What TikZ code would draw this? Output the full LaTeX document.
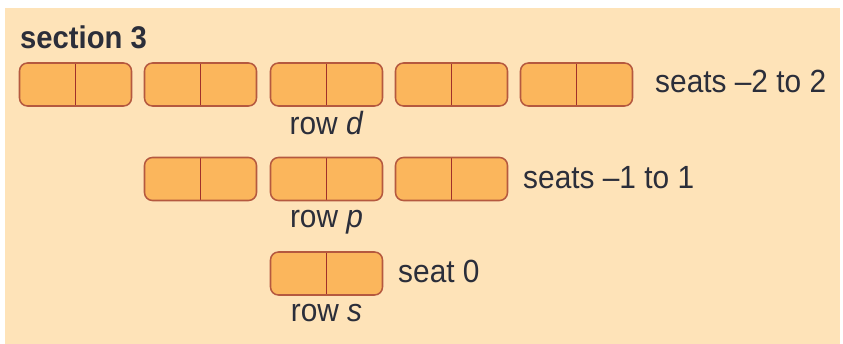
\documentclass[tikz,border=0pt]{standalone}
\usepackage{fontspec}
\setmainfont{Liberation Sans}[FakeStretch=0.93]
\definecolor{sectbg}{HTML}{FEE3B8}
\definecolor{seatfill}{HTML}{FBB65C}
\definecolor{seatedge}{HTML}{B5593F}
\definecolor{seatline}{HTML}{A0302A}
\definecolor{inktext}{HTML}{2B2E3A}
\tikzset{
  seatbox/.style={draw=seatedge, fill=seatfill, line width=1.3pt, rounded corners=2.4mm,
    minimum width=33.6mm, minimum height=12.9mm, inner sep=0pt,
    path picture={\draw[seatline, line width=1.1pt] (path picture bounding box.north) -- (path picture bounding box.south);}},
  lbl/.style={text=inktext, inner sep=0pt, font=\fontsize{27.4}{32}\selectfont}
}
\begin{document}
\begin{tikzpicture}[x=0.3mm,y=-0.3mm]
\useasboundingbox (0,0) rectangle (843,344);
\fill[sectbg] (5,8) rectangle (840,344);
\node[lbl, anchor=base west, font=\fontsize{26.8}{32}\selectfont\bfseries] (title) at (20,49) {section 3};
% row d
\node[seatbox] (d1) at (75.5,84.5) {};
\node[seatbox] (d2) at (200.5,84.5) {};
\node[seatbox] (d3) at (326.5,84.5) {};
\node[seatbox] (d4) at (451.5,84.5) {};
\node[seatbox] (d5) at (576.5,84.5) {};
\node[lbl, anchor=base west] (dseats) at (655,93) {seats --2 to 2};
\node[lbl, anchor=base] (drow) at (326.5,135) {row \textit{d}};
% row p
\node[seatbox] (p1) at (200.5,179) {};
\node[seatbox] (p2) at (326.5,179) {};
\node[seatbox] (p3) at (451.5,179) {};
\node[lbl, anchor=base west] (pseats) at (523,189) {seats --1 to 1};
\node[lbl, anchor=base] (prow) at (326.5,228) {row \textit{p}};
% row s
\node[seatbox] (s1) at (326.5,273.5) {};
\node[lbl, anchor=base west] (sseats) at (398,283) {seat 0};
\node[lbl, anchor=base] (srow) at (326.5,322) {row \textit{s}};
\end{tikzpicture}
\end{document}
